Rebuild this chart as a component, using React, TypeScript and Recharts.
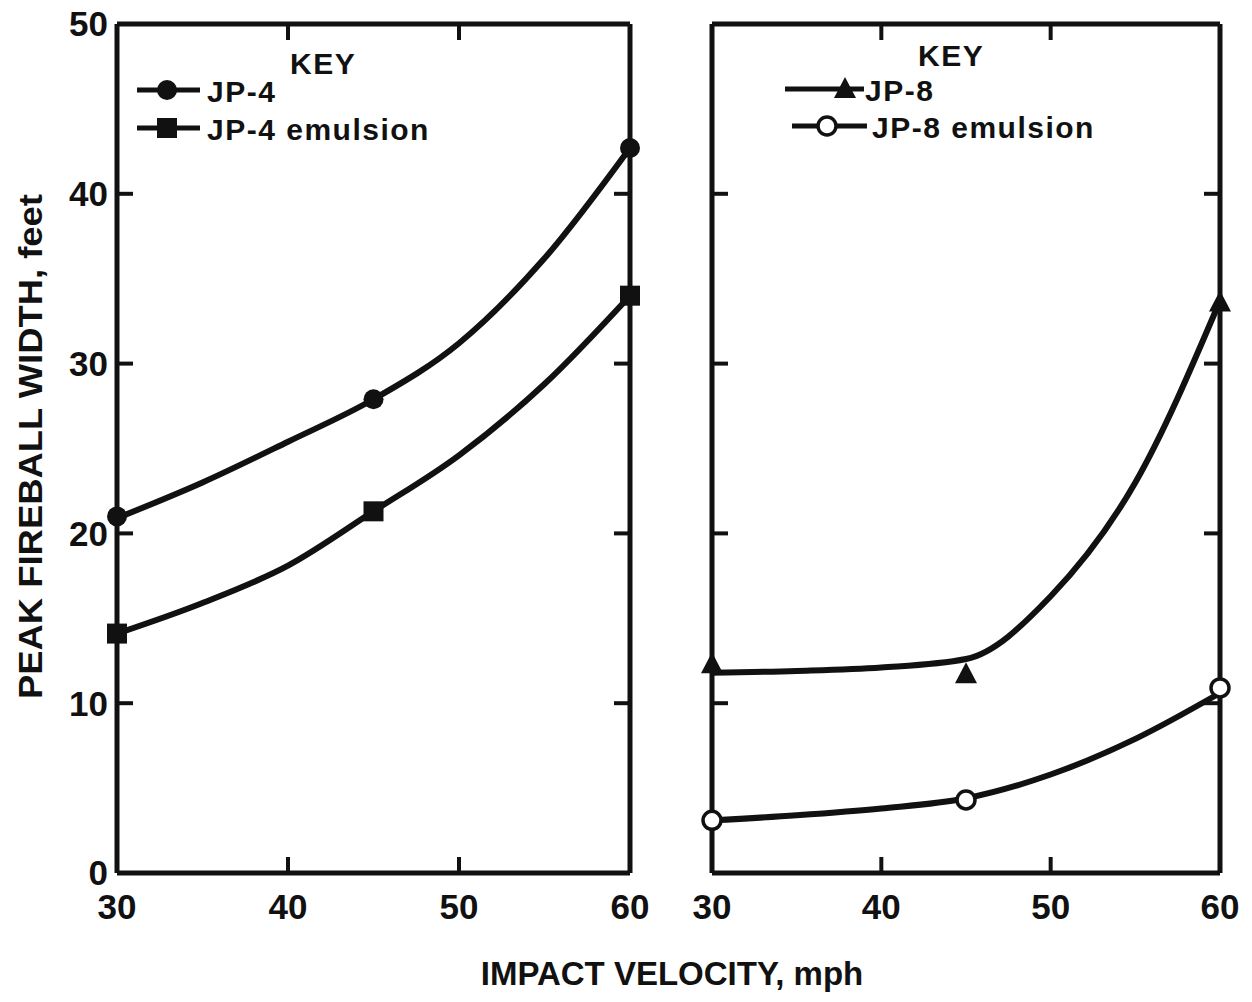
import React from 'react';
import { ComposedChart, Line, XAxis, YAxis, Legend, Label } from 'recharts';

// axis ticks
const VELOCITY_TICKS = [30, 40, 50, 60];
const INNER_VELOCITY_TICKS = [40, 50];
const WIDTH_TICKS = [0, 10, 20, 30, 40, 50];
const INNER_WIDTH_TICKS = [10, 20, 30, 40];

// test points (impact velocity, mph -> peak fireball width, ft)
const POINT_VELOCITY = [30, 45, 60];
const JP4 = [21.0, 27.9, 42.7];
const JP4_EMULSION = [14.1, 21.3, 34.0];
const JP8 = [12.3, 11.7, 33.6];
const JP8_EMULSION = [3.1, 4.3, 10.9];

// faired curves as drawn on the figure
const CURVE_VELOCITY = [30, 35, 40, 45, 50, 55, 60];
const JP4_CURVE = [20.9, 23.0, 25.4, 27.9, 31.2, 36.2, 42.7];
const JP4_EMULSION_CURVE = [14.1, 15.9, 18.1, 21.3, 24.6, 28.8, 34.0];
const JP8_CURVE = [11.8, 11.9, 12.1, 12.6, 16.3, 23.0, 33.7];
const JP8_EMULSION_CURVE = [3.1, 3.4, 3.8, 4.4, 5.8, 7.9, 10.6];

const INK = '#111';
const FONT = '"Liberation Sans", Arial, sans-serif';

const rows = (xs: number[], ys: number[]) => xs.map((v, i) => ({ v, w: ys[i] }));

type Kind = 'circle' | 'square' | 'triangle' | 'open';

function Marker({ kind, cx, cy }: { kind: Kind; cx: number; cy: number }) {
  if (kind === 'circle') return <circle cx={cx} cy={cy} r={10} fill={INK} />;
  if (kind === 'square') return <rect x={cx - 10} y={cy - 10} width={20} height={20} fill={INK} />;
  if (kind === 'triangle')
    return <polygon points={`${cx},${cy - 12} ${cx - 11},${cy + 9} ${cx + 11},${cy + 9}`} fill={INK} />;
  return <circle cx={cx} cy={cy} r={9} fill="#fff" stroke={INK} strokeWidth={3.5} />;
}

const dotOf = (kind: Kind) => (p: any) =>
  p.cx == null ? <g key={p.index} /> : <Marker key={p.index} kind={kind} cx={p.cx} cy={p.cy} />;

// tick marks only, no label
const noLabel = (p: any) => <g key={p.index} />;

interface Series {
  name: string;
  kind: Kind;
  points: number[];
  curve: number[];
}

const LEFT_SERIES: Series[] = [
  { name: 'JP-4', kind: 'circle', points: JP4, curve: JP4_CURVE },
  { name: 'JP-4 emulsion', kind: 'square', points: JP4_EMULSION, curve: JP4_EMULSION_CURVE },
];
const RIGHT_SERIES: Series[] = [
  { name: 'JP-8', kind: 'triangle', points: JP8, curve: JP8_CURVE },
  { name: 'JP-8 emulsion', kind: 'open', points: JP8_EMULSION, curve: JP8_EMULSION_CURVE },
];

interface KeyLayout {
  key: [number, number];
  rows: { y: number; x1: number; x2: number; mx: number; tx: number }[];
}

function KeyBox({ series, layout }: { series: Series[]; layout: KeyLayout }) {
  const text = { fontFamily: FONT, fontWeight: 700, fontSize: 30, fill: INK, letterSpacing: 1.5 };
  return (
    <svg width={600} height={160} style={{ display: 'block' }}>
      <text x={layout.key[0]} y={layout.key[1]} {...text}>KEY</text>
      {series.map((s, i) => {
        const r = layout.rows[i];
        return (
          <g key={s.name}>
            <line x1={r.x1} x2={r.x2} y1={r.y} y2={r.y} stroke={INK} strokeWidth={5} />
            <Marker kind={s.kind} cx={r.mx} cy={r.y} />
            <text x={r.tx} y={r.y + 12} {...text}>{s.name}</text>
          </g>
        );
      })}
    </svg>
  );
}

interface PanelProps {
  width: number;
  margin: { top: number; right: number; bottom: number; left: number };
  series: Series[];
  yLabels: boolean;
  keyLayout: KeyLayout;
}

function Panel({ width, margin, series, yLabels, keyLayout }: PanelProps) {
  const tickText = { fontFamily: FONT, fontWeight: 700, fontSize: 35, fill: INK };
  const edge = { stroke: INK, strokeWidth: 5 };
  const tick = { stroke: INK, strokeWidth: 4 };
  const yId = yLabels ? 'lab' : 'in';
  return (
    <ComposedChart width={width} height={1002} margin={margin}>
      <XAxis
        xAxisId="lab"
        dataKey="v"
        type="number"
        domain={[30, 60]}
        ticks={VELOCITY_TICKS}
        orientation="bottom"
        height={50}
        tickLine={false}
        axisLine={false}
        tickSize={6}
        tickMargin={15}
        tick={tickText}
      />
      <XAxis xAxisId="bot" dataKey="v" type="number" domain={[30, 60]} allowDataOverflow ticks={INNER_VELOCITY_TICKS}
        orientation="bottom" mirror tick={noLabel} tickSize={16} tickLine={tick} axisLine={edge} />
      <XAxis xAxisId="top" dataKey="v" type="number" domain={[30, 60]} allowDataOverflow ticks={INNER_VELOCITY_TICKS}
        orientation="top" mirror tick={noLabel} tickSize={16} tickLine={tick} axisLine={edge} />
      {yLabels && (
        <YAxis
          yAxisId="lab"
          type="number"
          domain={[0, 50]}
          ticks={WIDTH_TICKS}
          width={60}
          tickLine={false}
          axisLine={false}
          tickSize={6}
          tickMargin={3}
          tick={tickText}
        >
          <Label
            content={(p: any) => {
              const vb = p.viewBox;
              const cy = vb.y + vb.height / 2 - 2;
              return (
                <text
                  x={30}
                  y={cy}
                  transform={`rotate(-90 30 ${cy})`}
                  textAnchor="middle"
                  dominantBaseline="central"
                  fontFamily={FONT}
                  fontWeight={700}
                  fontSize={34}
                  textLength={505}
                  lengthAdjust="spacingAndGlyphs"
                  fill={INK}
                >
                  PEAK FIREBALL WIDTH, feet
                </text>
              );
            }}
          />
        </YAxis>
      )}
      <YAxis yAxisId="in" type="number" domain={[0, 50]} allowDataOverflow ticks={INNER_WIDTH_TICKS} orientation="left"
        mirror tick={noLabel} tickSize={16} tickLine={tick} axisLine={edge} />
      <YAxis yAxisId="right" type="number" domain={[0, 50]} allowDataOverflow ticks={INNER_WIDTH_TICKS} orientation="right"
        mirror tick={noLabel} tickSize={16} tickLine={tick} axisLine={edge} />
      <Legend
        layout="horizontal"
        verticalAlign="middle"
        align="center"
        wrapperStyle={{ left: 0, top: 0, width: 600, height: 160 }}
        content={() => <KeyBox series={series} layout={keyLayout} />}
      />
      {series.map((s) => (
        <Line
          key={s.name + '-curve'}
          xAxisId="lab"
          yAxisId={yId}
          data={rows(CURVE_VELOCITY, s.curve)}
          dataKey="w"
          type="monotone"
          stroke={INK}
          strokeWidth={6}
          dot={false}
          activeDot={false}
          legendType="none"
          isAnimationActive={false}
        />
      ))}
      {series.map((s) => (
        <Line
          key={s.name + '-pts'}
          name={s.name}
          xAxisId="lab"
          yAxisId={yId}
          data={rows(POINT_VELOCITY, s.points)}
          dataKey="w"
          stroke="none"
          dot={dotOf(s.kind)}
          activeDot={false}
          isAnimationActive={false}
        />
      ))}
    </ComposedChart>
  );
}

export default function App() {
  return (
    <div style={{ position: 'absolute', left: 0, top: 0, width: 1252, height: 1002, background: '#fff' }}>
      <div style={{ position: 'absolute', left: 0, top: 0 }}>
        <Panel
          width={660}
          margin={{ top: 24, right: 30, bottom: 79, left: 57 }}
          series={LEFT_SERIES}
          yLabels
          keyLayout={{
            key: [290, 74],
            rows: [
              { y: 90, x1: 137, x2: 200, mx: 167, tx: 207 },
              { y: 128, x1: 137, x2: 200, mx: 167, tx: 207 },
            ],
          }}
        />
      </div>
      <div style={{ position: 'absolute', left: 660, top: 0 }}>
        <Panel
          width={592}
          margin={{ top: 24, right: 32, bottom: 79, left: 52 }}
          series={RIGHT_SERIES}
          yLabels={false}
          keyLayout={{
            key: [258, 66],
            rows: [
              { y: 89, x1: 125, x2: 204, mx: 185, tx: 205 },
              { y: 126, x1: 132, x2: 207, mx: 167, tx: 212 },
            ],
          }}
        />
      </div>
      <div
        style={{
          position: 'absolute',
          left: 372,
          top: 957,
          width: 600,
          textAlign: 'center',
          fontFamily: FONT,
          fontWeight: 700,
          fontSize: 33,
          lineHeight: 1,
          color: INK,
        }}
      >
        IMPACT VELOCITY, mph
      </div>
    </div>
  );
}
